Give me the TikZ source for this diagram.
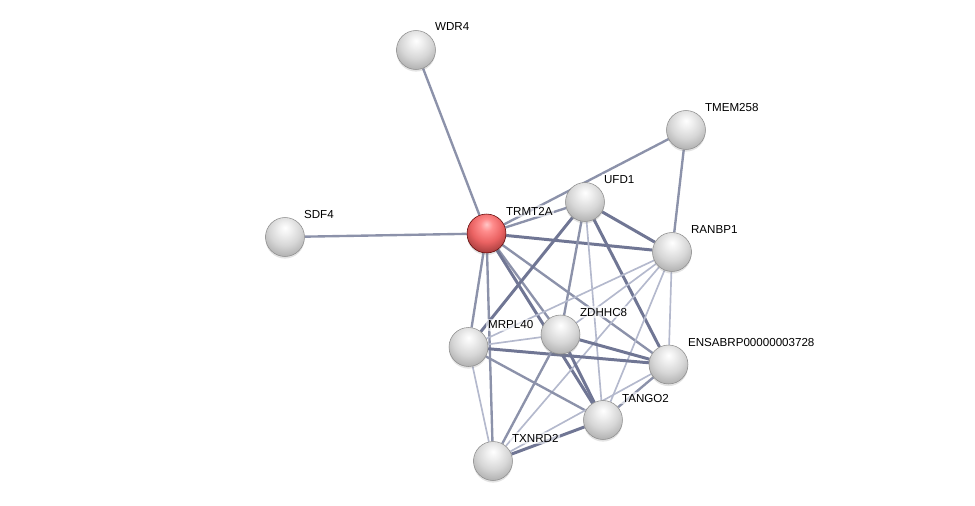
\documentclass[tikz,border=0pt]{standalone}
\usepackage{fontspec}
\setmainfont{Liberation Sans}
\usetikzlibrary{backgrounds,shadows}

\definecolor{edgestrong}{RGB}{112,118,148}
\definecolor{edgemid}{RGB}{140,146,170}
\definecolor{edgeweak}{RGB}{180,185,205}
\pgfdeclareradialshading{greysphere}{\pgfpoint{0bp}{12bp}}{color(0bp)=(white); color(8bp)=(black!6); color(20bp)=(black!16); color(30bp)=(black!28); color(40bp)=(black!42); color(80bp)=(black!50)}
\pgfdeclareradialshading{redsphere}{\pgfpoint{0bp}{12bp}}{color(0bp)=(red!22!white); color(8bp)=(red!45!white); color(20bp)=(red!58!white!92!black); color(30bp)=(red!62!white!70!black); color(40bp)=(red!55!black); color(80bp)=(red!45!black)}

\begin{document}
\begin{tikzpicture}[x=0.02cm,y=-0.02cm]
  \tikzstyle{vertex}=[circle,draw=black!45,line width=0.3pt,shading=greysphere,minimum size=0.78cm,inner sep=0pt,
    drop shadow={shadow xshift=0pt,shadow yshift=-1.2pt,opacity=0.22}]
  \tikzstyle{seed}=[vertex,draw=red!35!black,shading=redsphere]
  \tikzstyle{tag}=[anchor=west,font=\fontsize{6.6}{7}\selectfont,fill=white,fill opacity=0.6,text opacity=1,inner sep=1pt]
  \tikzstyle{strong}=[draw=edgestrong,line width=1.7pt]
  \tikzstyle{mid}=[draw=edgemid,line width=1.35pt]
  \tikzstyle{weak}=[draw=edgeweak,line width=0.95pt]
  \useasboundingbox (0,0) rectangle (975,505);

  \node[vertex] (WDR4)    at (416,50)    {};
  \node[vertex] (TMEM258) at (686,130)   {};
  \node[vertex] (UFD1)    at (585,202)   {};
  \node[vertex] (SDF4)    at (285,237)   {};
  \node[seed]   (TRMT2A)  at (486.5,233.5) {};
  \node[vertex] (RANBP1)  at (672,252)   {};
  \node[vertex] (MRPL40)  at (468.5,347) {};
  \node[vertex] (ZDHHC8)  at (560.5,334.5) {};
  \node[vertex] (ENSABRP) at (668.5,364.5) {};
  \node[vertex] (TANGO2)  at (603,420)   {};
  \node[vertex] (TXNRD2)  at (493,461)   {};

  \node[tag] (tWDR4)    at (433,27)  {WDR4};
  \node[tag] (tTMEM258) at (703,108) {TMEM258};
  \node[tag] (tUFD1)    at (602,180) {UFD1};
  \node[tag] (tSDF4)    at (302,215) {SDF4};
  \node[tag] (tTRMT2A)  at (504,211) {TRMT2A};
  \node[tag] (tRANBP1)  at (689,230) {RANBP1};
  \node[tag] (tMRPL40)  at (486,325) {MRPL40};
  \node[tag] (tZDHHC8)  at (578,312) {ZDHHC8};
  \node[tag] (tENSABRP) at (686,342) {ENSABRP00000003728};
  \node[tag] (tTANGO2)  at (620,398) {TANGO2};
  \node[tag] (tTXNRD2)  at (510,438) {TXNRD2};

  \begin{pgfonlayer}{background}
    % seed protein
    \draw[mid] (TRMT2A) -- (WDR4);
    \draw[mid] (TRMT2A) -- (SDF4);
    \draw[mid] (TRMT2A) -- (TMEM258);
    \draw[mid] (TRMT2A) -- (UFD1);
    \draw[strong] (TRMT2A) -- (RANBP1);
    \draw[mid] (TRMT2A) -- (MRPL40);
    \draw[mid] (TRMT2A) -- (TXNRD2);
    \draw[mid] (TRMT2A) -- (ZDHHC8);
    \draw[strong] (TRMT2A) -- (TANGO2);
    \draw[mid] (TRMT2A) -- (ENSABRP);
    % the rest
    \draw[mid] (TMEM258) -- (RANBP1);
    \draw[strong] (UFD1) -- (RANBP1);
    \draw[strong] (UFD1) -- (MRPL40);
    \draw[mid] (UFD1) -- (ZDHHC8);
    \draw[weak] (UFD1) -- (TANGO2);
    \draw[strong] (UFD1) -- (ENSABRP);
    \draw[weak] (RANBP1) -- (ENSABRP);
    \draw[weak] (RANBP1) -- (MRPL40);
    \draw[weak] (RANBP1) -- (ZDHHC8);
    \draw[weak] (RANBP1) -- (TANGO2);
    \draw[weak] (RANBP1) -- (TXNRD2);
    \draw[weak] (MRPL40) -- (ZDHHC8);
    \draw[strong] (MRPL40) -- (ENSABRP);
    \draw[mid] (MRPL40) -- (TANGO2);
    \draw[weak] (MRPL40) -- (TXNRD2);
    \draw[strong] (ZDHHC8) -- (ENSABRP);
    \draw[strong] (ZDHHC8) -- (TANGO2);
    \draw[mid] (ZDHHC8) -- (TXNRD2);
    \draw[mid] (ENSABRP) -- (TANGO2);
    \draw[weak] (ENSABRP) -- (TXNRD2);
    \draw[strong] (TANGO2) -- (TXNRD2);
  \end{pgfonlayer}
\end{tikzpicture}
\end{document}
